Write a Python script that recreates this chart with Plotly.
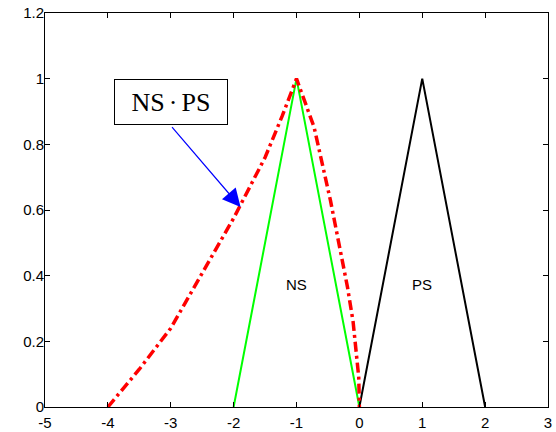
import plotly.graph_objects as go

# Membership functions
ns_x = [-2, -1, 0]
ns_y = [0, 1, 0]
ps_x = [0, 1, 2]
ps_y = [0, 1, 0]

# NS·PS product curve
prod_x = [-4.0, -3.5, -3.0, -2.5, -2.0, -1.5, -1.23, -1.0,
          -0.72, -0.46, -0.19, -0.1, -0.04, -0.01, 0.0]
prod_y = [0.0, 0.115, 0.24, 0.41, 0.575, 0.76, 0.885, 1.0,
          0.852, 0.629, 0.366, 0.26, 0.16, 0.09, 0.0]

x_ticks = [-5, -4, -3, -2, -1, 0, 1, 2, 3]
y_ticks = [0, 0.2, 0.4, 0.6, 0.8, 1, 1.2]
y_tick_text = ["0", "0.2", "0.4", "0.6", "0.8", "1", "1.2"]

fig = go.Figure()
fig.add_trace(go.Scatter(x=ns_x, y=ns_y, mode="lines",
                         line=dict(color="#00ff00", width=2), showlegend=False))
fig.add_trace(go.Scatter(x=ps_x, y=ps_y, mode="lines",
                         line=dict(color="black", width=2), showlegend=False))
fig.add_trace(go.Scatter(x=prod_x, y=prod_y, mode="lines",
                         line=dict(color="red", width=3.5, dash="10px,4px,3px,4px"),
                         showlegend=False))

# Labels
fig.add_annotation(x=-1, y=0.374, text="NS", showarrow=False,
                   font=dict(family="Liberation Sans", size=15, color="black"))
fig.add_annotation(x=1, y=0.374, text="PS", showarrow=False,
                   font=dict(family="Liberation Sans", size=15, color="black"))

# Boxed label
sp = "<span style='font-size:16px'> </span>"
fig.add_annotation(x=-3.0, y=0.928, text="NS" + sp + "·" + sp + "PS", showarrow=False,
                   font=dict(family="Liberation Serif", size=26, color="black"),
                   bordercolor="black", borderwidth=1, borderpad=0,
                   bgcolor="white", width=112, height=44)
# Arrow
fig.add_annotation(x=-1.89, y=0.609, ax=-3.0, ay=0.857, axref="x", ayref="y",
                   text="", showarrow=True, arrowhead=2, arrowsize=3,
                   arrowwidth=1.2, arrowcolor="blue", standoff=0)

axis_common = dict(showgrid=False, zeroline=False, showline=True, linecolor="black",
                   linewidth=1, mirror="ticks", ticks="inside", ticklen=5,
                   tickcolor="black", tickfont=dict(family="Liberation Sans", size=15,
                                                    color="black"))
fig.update_xaxes(range=[-5, 3], tickvals=x_ticks, ticktext=[str(v) for v in x_ticks],
                 automargin=False, ticklabelstandoff=2, **axis_common)
fig.update_yaxes(range=[0, 1.2], tickvals=y_ticks, ticktext=y_tick_text,
                 automargin=False, ticklabelstandoff=-3, **axis_common)

fig.update_layout(width=556, height=432,
                  margin=dict(l=45, r=8, t=13, b=25, autoexpand=False),
                  plot_bgcolor="white", paper_bgcolor="white")

fig.write_html("out.html", config={"displayModeBar": False},
               post_script="document.body.style.margin='0';"
                           "document.body.style.overflow='hidden';")
